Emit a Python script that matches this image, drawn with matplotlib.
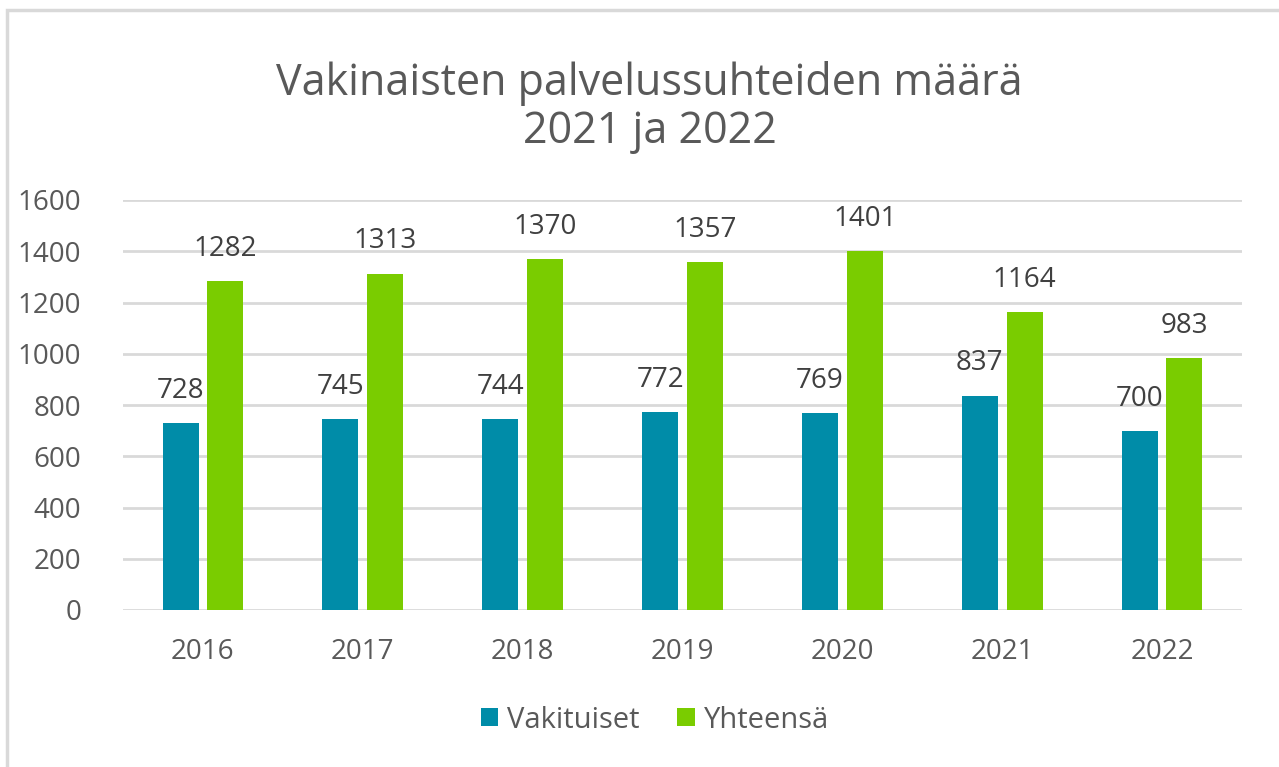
import numpy as np
import matplotlib.pyplot as plt
from matplotlib.patches import Rectangle

years = ['2016', '2017', '2018', '2019', '2020', '2021', '2022']
vakituiset = [728, 745, 744, 772, 769, 837, 700]
yhteensa = [1282, 1313, 1370, 1357, 1401, 1164, 983]
yticks = [0, 200, 400, 600, 800, 1000, 1200, 1400, 1600]

BLUE = '#008CA8'
GREEN = '#7ACC00'
GRID = '#D9D9D9'
TXT = '#595959'
LBL = '#404040'

plt.rcParams['font.family'] = ['Open Sans', 'DejaVu Sans']

fig = plt.figure(figsize=(12.79, 7.67), dpi=100)
fig.patches.append(Rectangle((7 / 1279, -0.01), 1.0, 1 - 10 / 767 + 0.01,
                             transform=fig.transFigure, fill=False,
                             edgecolor=GRID, linewidth=2.5))

ax = fig.add_axes([123 / 1279, 1 - 610 / 767, (1242 - 123) / 1279, (610 - 200) / 767])
x = np.arange(len(years))
w = 0.225
off = 0.14
b1 = ax.bar(x - off, vakituiset, w, color=BLUE, label='Vakituiset', zorder=3)
b2 = ax.bar(x + off, yhteensa, w, color=GREEN, label='Yhteensä', zorder=3)

for bars, vals in ((b1, vakituiset), (b2, yhteensa)):
    for r, v in zip(bars, vals):
        ax.annotate(str(v), (r.get_x() + r.get_width() / 2, v), xytext=(0, 13),
                    textcoords='offset points', ha='center', va='bottom',
                    fontsize=20, color=LBL)

ax.set_xlim(-0.5, len(years) - 0.5)
ax.set_ylim(0, 1600)
ax.set_yticks(yticks)
ax.set_xticks(x)
ax.set_xticklabels(years)
ax.tick_params(axis='both', length=0, labelsize=20, colors=TXT)
ax.tick_params(axis='y', pad=30)
ax.tick_params(axis='x', pad=20)
ax.yaxis.grid(True, color=GRID, linewidth=2, zorder=0)
for s in ax.spines.values():
    s.set_visible(False)

fig.text(0.508, 1 - 84 / 767, 'Vakinaisten palvelussuhteiden määrä', ha='center', va='center',
         fontsize=31, color=TXT)
fig.text(0.508, 1 - 132 / 767, '2021 ja 2022', ha='center', va='center',
         fontsize=31, color=TXT)

fig.legend(handles=[b1, b2], loc='center', bbox_to_anchor=(0.512, 1 - 720 / 767), ncol=2,
           frameon=False, fontsize=21, labelcolor=TXT, handlelength=0.6, handleheight=0.6,
           handletextpad=0.3, columnspacing=1.3)

fig.savefig('out.png', dpi=100)
